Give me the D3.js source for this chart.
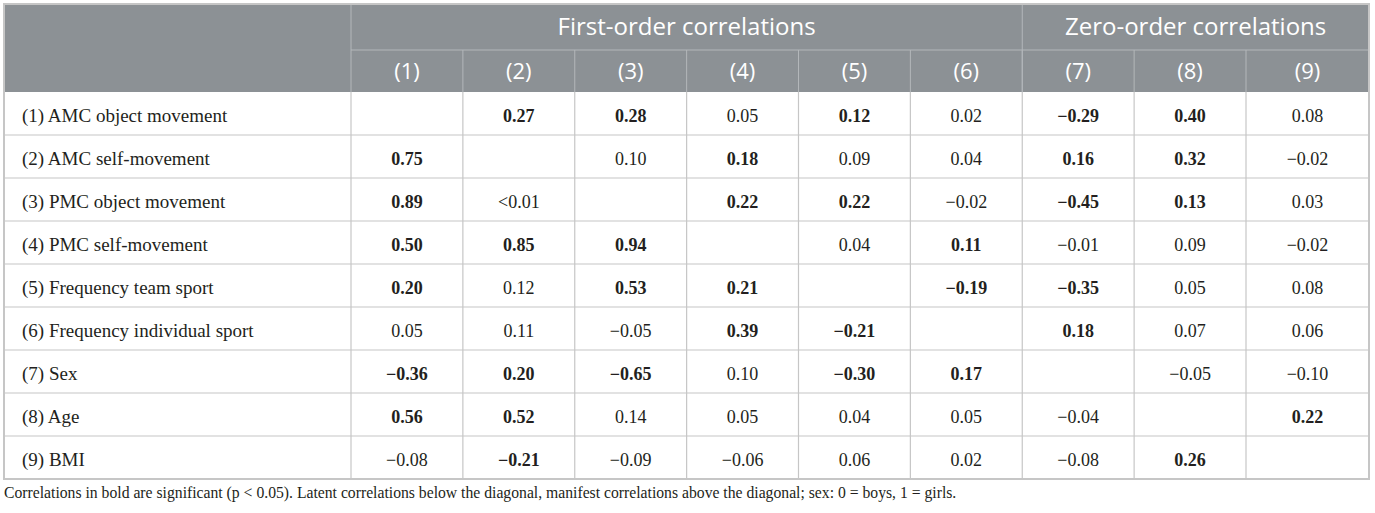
<!DOCTYPE html>
<html>
<head>
<meta charset="utf-8">
<script src="https://cdn.jsdelivr.net/npm/d3@7"></script>
<style>
  body { margin: 0; background: #fff; }
</style>
</head>
<body>
<svg id="table" width="1375" height="513"></svg>
<script>
'use strict';

var rowLabels = ['(1) AMC object movement', '(2) AMC self-movement', '(3) PMC object movement',
  '(4) PMC self-movement', '(5) Frequency team sport', '(6) Frequency individual sport',
  '(7) Sex', '(8) Age', '(9) BMI'];
var colLabels = ['(1)', '(2)', '(3)', '(4)', '(5)', '(6)', '(7)', '(8)', '(9)'];
var groupLabels = ['First-order correlations', 'Zero-order correlations'];
var groupSpans = [[0, 5], [6, 8]];

var values = [
  ['', '0.27', '0.28', '0.05', '0.12', '0.02', '-0.29', '0.40', '0.08'],
  ['0.75', '', '0.10', '0.18', '0.09', '0.04', '0.16', '0.32', '-0.02'],
  ['0.89', '<0.01', '', '0.22', '0.22', '-0.02', '-0.45', '0.13', '0.03'],
  ['0.50', '0.85', '0.94', '', '0.04', '0.11', '-0.01', '0.09', '-0.02'],
  ['0.20', '0.12', '0.53', '0.21', '', '-0.19', '-0.35', '0.05', '0.08'],
  ['0.05', '0.11', '-0.05', '0.39', '-0.21', '', '0.18', '0.07', '0.06'],
  ['-0.36', '0.20', '-0.65', '0.10', '-0.30', '0.17', '', '-0.05', '-0.10'],
  ['0.56', '0.52', '0.14', '0.05', '0.04', '0.05', '-0.04', '', '0.22'],
  ['-0.08', '-0.21', '-0.09', '-0.06', '0.06', '0.02', '-0.08', '0.26', '']
];
var significant = [
  [0, 1, 1, 0, 1, 0, 1, 1, 0],
  [1, 0, 0, 1, 0, 0, 1, 1, 0],
  [1, 0, 0, 1, 1, 0, 1, 1, 0],
  [1, 1, 1, 0, 0, 1, 0, 0, 0],
  [1, 0, 1, 1, 0, 1, 1, 0, 0],
  [0, 0, 0, 1, 1, 0, 1, 0, 0],
  [1, 1, 1, 0, 1, 1, 0, 0, 0],
  [1, 1, 0, 0, 0, 0, 0, 0, 1],
  [0, 1, 0, 0, 0, 0, 0, 1, 0]
];
var footnote = 'Correlations in bold are significant (p < 0.05). Latent correlations below the diagonal, manifest correlations above the diagonal; sex: 0 = boys, 1 = girls.';

var tableLeft = 4;
var tableRight = 1369;
var firstColRight = 351;
var headerTop = 4;
var headerMid = 50;
var headerBottom = 92;
var bodyBottom = 479;

var headerColor = '#8c9195';
var headerLineColor = '#b3b7ba';
var gridColor = '#c6c6c6';
var textColor = '#231f20';
var serif = '"Liberation Serif", "Times New Roman", serif';
var sans = '"Open Sans", "Noto Sans", sans-serif';

var svg = d3.select('#table');

// left edge of each value column; the last one runs to the table edge
var x = d3.scaleLinear().domain([0, 8]).range([firstColRight, 1246]);
function colRight(i) {
  return i === colLabels.length - 1 ? tableRight : x(i + 1);
}
function colCenter(i) {
  return (x(i) + colRight(i)) / 2;
}
var y = d3.scaleBand().domain(rowLabels).range([headerBottom, bodyBottom]);

// header background
svg.append('rect').attr('x', tableLeft).attr('y', headerTop)
  .attr('width', tableRight - tableLeft).attr('height', headerBottom - headerTop)
  .attr('fill', headerColor);

// header lines
svg.append('line').attr('x1', firstColRight).attr('x2', tableRight)
  .attr('y1', headerMid).attr('y2', headerMid)
  .attr('stroke', headerLineColor).attr('stroke-width', 1);
svg.append('line').attr('x1', firstColRight).attr('x2', firstColRight)
  .attr('y1', headerTop).attr('y2', headerBottom)
  .attr('stroke', headerLineColor).attr('stroke-width', 1);
svg.append('line').attr('x1', x(groupSpans[1][0])).attr('x2', x(groupSpans[1][0]))
  .attr('y1', headerTop).attr('y2', headerBottom)
  .attr('stroke', headerLineColor).attr('stroke-width', 1);
svg.selectAll('line.hsub').data(d3.range(1, colLabels.length)).enter().append('line')
  .attr('class', 'hsub')
  .attr('x1', function (d) { return x(d); }).attr('x2', function (d) { return x(d); })
  .attr('y1', headerMid).attr('y2', headerBottom)
  .attr('stroke', headerLineColor).attr('stroke-width', 1);

// group headers
svg.selectAll('text.group').data(groupLabels).enter().append('text')
  .attr('class', 'group')
  .attr('x', function (d, i) { return (x(groupSpans[i][0]) + colRight(groupSpans[i][1])) / 2; })
  .attr('y', (headerTop + headerMid) / 2)
  .attr('dy', '0.35em')
  .attr('text-anchor', 'middle')
  .attr('font-family', sans).attr('font-size', 24)
  .attr('fill', '#fff')
  .text(function (d) { return d; });

// column headers
svg.selectAll('text.col').data(colLabels).enter().append('text')
  .attr('class', 'col')
  .attr('x', function (d, i) { return colCenter(i); })
  .attr('y', (headerMid + headerBottom) / 2)
  .attr('dy', '0.35em')
  .attr('text-anchor', 'middle')
  .attr('font-family', sans).attr('font-size', 22)
  .attr('fill', '#fff')
  .text(function (d) { return d; });

// body grid
svg.selectAll('line.row').data(rowLabels.slice(1)).enter().append('line')
  .attr('class', 'row')
  .attr('x1', tableLeft).attr('x2', tableRight)
  .attr('y1', function (d) { return y(d); }).attr('y2', function (d) { return y(d); })
  .attr('stroke', gridColor).attr('stroke-width', 1.2);
svg.selectAll('line.col').data(d3.range(0, colLabels.length)).enter().append('line')
  .attr('class', 'col')
  .attr('x1', function (d) { return x(d); }).attr('x2', function (d) { return x(d); })
  .attr('y1', headerBottom).attr('y2', bodyBottom)
  .attr('stroke', gridColor).attr('stroke-width', 1.2);

// outer border
svg.append('rect').attr('x', tableLeft).attr('y', headerTop)
  .attr('width', tableRight - tableLeft).attr('height', bodyBottom - headerTop)
  .attr('fill', 'none').attr('stroke', gridColor).attr('stroke-width', 2);

// row labels
svg.selectAll('text.label').data(rowLabels).enter().append('text')
  .attr('class', 'label')
  .attr('x', 22)
  .attr('y', function (d) { return y(d) + y.bandwidth() / 2; })
  .attr('dy', '0.45em')
  .attr('font-family', serif).attr('font-size', 19)
  .attr('fill', textColor)
  .text(function (d) { return d; });

// cell values
var cells = [];
values.forEach(function (row, r) {
  row.forEach(function (v, c) {
    if (v !== '') cells.push({ r: r, c: c, text: v.replace('-', '\u2212'), bold: significant[r][c] === 1 });
  });
});
svg.selectAll('text.cell').data(cells).enter().append('text')
  .attr('class', 'cell')
  .attr('x', function (d) { return colCenter(d.c); })
  .attr('y', function (d) { return y(rowLabels[d.r]) + y.bandwidth() / 2; })
  .attr('dy', '0.47em')
  .attr('text-anchor', 'middle')
  .attr('font-family', serif).attr('font-size', 18)
  .attr('font-weight', function (d) { return d.bold ? 'bold' : 'normal'; })
  .attr('fill', textColor)
  .text(function (d) { return d.text; });

// footnote
svg.append('text')
  .attr('x', 4).attr('y', 498)
  .attr('font-family', serif).attr('font-size', 15.7)
  .attr('fill', textColor)
  .text(footnote);
</script>
</body>
</html>
